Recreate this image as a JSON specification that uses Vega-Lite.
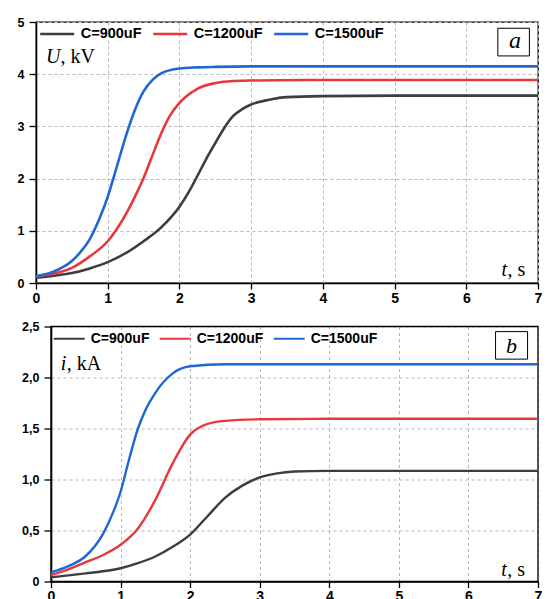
{
  "$schema": "https://vega.github.io/schema/vega-lite/v6.json",
  "padding": {"top": 14, "left": 0, "right": 0, "bottom": 0},
  "background": "white",
  "bounds": "flush",
  "spacing": 43.5,
  "datasets": {
    "U": [
      {"t": 0, "C": "C=900uF", "v": 0.10}, {"t": 0.25, "C": "C=900uF", "v": 0.14}, {"t": 0.5, "C": "C=900uF", "v": 0.19},
      {"t": 0.75, "C": "C=900uF", "v": 0.28}, {"t": 1, "C": "C=900uF", "v": 0.40}, {"t": 1.25, "C": "C=900uF", "v": 0.57},
      {"t": 1.5, "C": "C=900uF", "v": 0.80}, {"t": 1.75, "C": "C=900uF", "v": 1.07}, {"t": 2, "C": "C=900uF", "v": 1.46},
      {"t": 2.125, "C": "C=900uF", "v": 1.73}, {"t": 2.25, "C": "C=900uF", "v": 2.05}, {"t": 2.375, "C": "C=900uF", "v": 2.38},
      {"t": 2.5, "C": "C=900uF", "v": 2.68}, {"t": 2.625, "C": "C=900uF", "v": 2.97}, {"t": 2.75, "C": "C=900uF", "v": 3.20},
      {"t": 2.875, "C": "C=900uF", "v": 3.33}, {"t": 3, "C": "C=900uF", "v": 3.42}, {"t": 3.25, "C": "C=900uF", "v": 3.51},
      {"t": 3.5, "C": "C=900uF", "v": 3.56}, {"t": 4, "C": "C=900uF", "v": 3.58}, {"t": 5, "C": "C=900uF", "v": 3.59},
      {"t": 6, "C": "C=900uF", "v": 3.59}, {"t": 7, "C": "C=900uF", "v": 3.59},
      {"t": 0, "C": "C=1200uF", "v": 0.12}, {"t": 0.25, "C": "C=1200uF", "v": 0.18}, {"t": 0.5, "C": "C=1200uF", "v": 0.29},
      {"t": 0.75, "C": "C=1200uF", "v": 0.51}, {"t": 1, "C": "C=1200uF", "v": 0.80}, {"t": 1.125, "C": "C=1200uF", "v": 1.03},
      {"t": 1.25, "C": "C=1200uF", "v": 1.31}, {"t": 1.375, "C": "C=1200uF", "v": 1.64}, {"t": 1.5, "C": "C=1200uF", "v": 2.01},
      {"t": 1.625, "C": "C=1200uF", "v": 2.45}, {"t": 1.75, "C": "C=1200uF", "v": 2.88}, {"t": 1.875, "C": "C=1200uF", "v": 3.22},
      {"t": 2, "C": "C=1200uF", "v": 3.45}, {"t": 2.25, "C": "C=1200uF", "v": 3.72}, {"t": 2.5, "C": "C=1200uF", "v": 3.83},
      {"t": 2.75, "C": "C=1200uF", "v": 3.87}, {"t": 3, "C": "C=1200uF", "v": 3.88}, {"t": 4, "C": "C=1200uF", "v": 3.89},
      {"t": 5, "C": "C=1200uF", "v": 3.89}, {"t": 7, "C": "C=1200uF", "v": 3.89},
      {"t": 0, "C": "C=1500uF", "v": 0.13}, {"t": 0.25, "C": "C=1500uF", "v": 0.22}, {"t": 0.5, "C": "C=1500uF", "v": 0.42},
      {"t": 0.625, "C": "C=1500uF", "v": 0.60}, {"t": 0.75, "C": "C=1500uF", "v": 0.84}, {"t": 0.875, "C": "C=1500uF", "v": 1.20},
      {"t": 1, "C": "C=1500uF", "v": 1.65}, {"t": 1.125, "C": "C=1500uF", "v": 2.22}, {"t": 1.25, "C": "C=1500uF", "v": 2.80},
      {"t": 1.375, "C": "C=1500uF", "v": 3.30}, {"t": 1.5, "C": "C=1500uF", "v": 3.67}, {"t": 1.625, "C": "C=1500uF", "v": 3.89},
      {"t": 1.75, "C": "C=1500uF", "v": 4.02}, {"t": 2, "C": "C=1500uF", "v": 4.11}, {"t": 2.25, "C": "C=1500uF", "v": 4.13},
      {"t": 2.5, "C": "C=1500uF", "v": 4.14}, {"t": 3, "C": "C=1500uF", "v": 4.15}, {"t": 5, "C": "C=1500uF", "v": 4.15},
      {"t": 7, "C": "C=1500uF", "v": 4.15}
    ],
    "I": [
      {"t": 0, "C": "C=900uF", "v": 0.04}, {"t": 0.25, "C": "C=900uF", "v": 0.06}, {"t": 0.5, "C": "C=900uF", "v": 0.08},
      {"t": 0.75, "C": "C=900uF", "v": 0.10}, {"t": 1, "C": "C=900uF", "v": 0.13}, {"t": 1.25, "C": "C=900uF", "v": 0.18},
      {"t": 1.5, "C": "C=900uF", "v": 0.245}, {"t": 1.75, "C": "C=900uF", "v": 0.34}, {"t": 2, "C": "C=900uF", "v": 0.46},
      {"t": 2.25, "C": "C=900uF", "v": 0.64}, {"t": 2.5, "C": "C=900uF", "v": 0.82}, {"t": 2.75, "C": "C=900uF", "v": 0.94},
      {"t": 3, "C": "C=900uF", "v": 1.02}, {"t": 3.25, "C": "C=900uF", "v": 1.06}, {"t": 3.5, "C": "C=900uF", "v": 1.078},
      {"t": 4, "C": "C=900uF", "v": 1.085}, {"t": 5, "C": "C=900uF", "v": 1.085}, {"t": 7, "C": "C=900uF", "v": 1.085},
      {"t": 0, "C": "C=1200uF", "v": 0.065}, {"t": 0.25, "C": "C=1200uF", "v": 0.12}, {"t": 0.5, "C": "C=1200uF", "v": 0.19},
      {"t": 0.75, "C": "C=1200uF", "v": 0.26}, {"t": 1, "C": "C=1200uF", "v": 0.36}, {"t": 1.25, "C": "C=1200uF", "v": 0.52},
      {"t": 1.5, "C": "C=1200uF", "v": 0.80}, {"t": 1.75, "C": "C=1200uF", "v": 1.16}, {"t": 2, "C": "C=1200uF", "v": 1.44},
      {"t": 2.25, "C": "C=1200uF", "v": 1.545}, {"t": 2.5, "C": "C=1200uF", "v": 1.575}, {"t": 3, "C": "C=1200uF", "v": 1.59},
      {"t": 4, "C": "C=1200uF", "v": 1.595}, {"t": 7, "C": "C=1200uF", "v": 1.595},
      {"t": 0, "C": "C=1500uF", "v": 0.09}, {"t": 0.25, "C": "C=1500uF", "v": 0.15}, {"t": 0.5, "C": "C=1500uF", "v": 0.25},
      {"t": 0.75, "C": "C=1500uF", "v": 0.47}, {"t": 0.9, "C": "C=1500uF", "v": 0.69}, {"t": 1, "C": "C=1500uF", "v": 0.88},
      {"t": 1.1, "C": "C=1500uF", "v": 1.14}, {"t": 1.25, "C": "C=1500uF", "v": 1.50}, {"t": 1.35, "C": "C=1500uF", "v": 1.67},
      {"t": 1.5, "C": "C=1500uF", "v": 1.85}, {"t": 1.75, "C": "C=1500uF", "v": 2.04}, {"t": 2, "C": "C=1500uF", "v": 2.11},
      {"t": 2.5, "C": "C=1500uF", "v": 2.13}, {"t": 7, "C": "C=1500uF", "v": 2.13}
    ]
  },
  "vconcat": [
    {
      "width": 502,
      "height": 261,
      "layer": [
        {
          "data": {"name": "U"},
          "mark": {"type": "line", "strokeWidth": 2.6, "interpolate": "monotone"},
          "encoding": {
            "x": {
              "field": "t", "type": "quantitative",
              "scale": {"domain": [0, 7], "nice": false, "zero": false},
              "axis": {
                "values": [0, 0.5, 1, 1.5, 2, 2.5, 3, 3.5, 4, 4.5, 5, 5.5, 6, 6.5, 7],
                "labelExpr": "datum.value % 1 === 0 ? format(datum.value, 'd') : ''",
                "tickSize": {"condition": {"test": "datum.value % 1 === 0", "value": 6}, "value": 4},
                "grid": true, "gridDash": [3, 3], "gridColor": "#b8b8b8",
                "labelFontSize": 14, "labelPadding": 2, "labelOverlap": false, "labelFlush": false
              }
            },
            "y": {
              "field": "v", "type": "quantitative",
              "scale": {"domain": [0, 5], "nice": false, "zero": false},
              "axis": {
                "values": [0, 0.5, 1, 1.5, 2, 2.5, 3, 3.5, 4, 4.5, 5],
                "labelExpr": "datum.value % 1 === 0 ? format(datum.value, 'd') : ''",
                "tickSize": {"condition": {"test": "datum.value % 1 === 0", "value": 7}, "value": 4},
                "grid": true,
                "gridDash": {"condition": {"test": "datum.value % 1 === 0", "value": [3, 3]}, "value": []},
                "gridColor": {"condition": {"test": "datum.value % 1 === 0", "value": "#b8b8b8"}, "value": "#d6d6d6"},
                "labelFontSize": 12.5, "labelPadding": 5, "labelOverlap": false,
                "minExtent": 35, "maxExtent": 35
              }
            },
            "color": {
              "field": "C", "type": "nominal",
              "scale": {"domain": ["C=900uF", "C=1200uF", "C=1500uF"], "range": ["#3d3d3d", "#e8383d", "#1f66d6"]},
              "legend": {
                "orient": "none", "legendX": 2.7, "legendY": -6.5, "direction": "horizontal", "title": null,
                "symbolType": "stroke", "symbolSize": 1156, "symbolStrokeWidth": 2.5,
                "labelFont": "Liberation Sans", "labelFontWeight": "bold", "labelFontSize": 14.5, "labelColor": "black",
                "labelOffset": 5, "columnPadding": 6, "padding": 0, "symbolOffset": 0
              }
            }
          }
        },
        {
          "data": {"values": [{}]},
          "mark": {"type": "rect", "fill": "white", "stroke": "black", "strokeWidth": 1},
          "encoding": {"x": {"datum": 6.44}, "x2": {"datum": 6.88}, "y": {"datum": 4.88}, "y2": {"datum": 4.35}}
        },
        {
          "data": {"values": [{}]},
          "mark": {"type": "text", "text": "a", "font": "Liberation Serif", "fontStyle": "italic", "fontSize": 24, "align": "center", "baseline": "alphabetic", "color": "black"},
          "encoding": {"x": {"datum": 6.68}, "y": {"datum": 4.5}}
        },
        {
          "data": {"values": [{}]},
          "mark": {"type": "text", "text": "U", "font": "Liberation Serif", "fontStyle": "italic", "fontSize": 20, "align": "left", "baseline": "alphabetic", "color": "black"},
          "encoding": {"x": {"datum": 0.14}, "y": {"datum": 4.21}}
        },
        {
          "data": {"values": [{}]},
          "mark": {"type": "text", "text": ", kV", "font": "Liberation Serif", "fontSize": 20, "align": "left", "baseline": "alphabetic", "dx": 14.5, "color": "black"},
          "encoding": {"x": {"datum": 0.14}, "y": {"datum": 4.21}}
        },
        {
          "data": {"values": [{}]},
          "mark": {"type": "text", "text": "t", "font": "Liberation Serif", "fontStyle": "italic", "fontSize": 20, "align": "left", "baseline": "alphabetic", "color": "black"},
          "encoding": {"x": {"datum": 6.49}, "y": {"datum": 0.13}}
        },
        {
          "data": {"values": [{}]},
          "mark": {"type": "text", "text": ", s", "font": "Liberation Serif", "fontSize": 20, "align": "left", "baseline": "alphabetic", "dx": 6, "color": "black"},
          "encoding": {"x": {"datum": 6.49}, "y": {"datum": 0.13}}
        }
      ]
    },
    {
      "width": 502,
      "height": 255,
      "view": {"stroke": null},
      "layer": [
        {
          "data": {"values": [{}]},
          "mark": {"type": "rect", "fill": null, "stroke": "black", "strokeWidth": 1.3},
          "encoding": {"x": {"datum": 0}, "x2": {"datum": 7}, "y": {"datum": 0}, "y2": {"datum": 2.5}}
        },
        {
          "data": {"name": "I"},
          "mark": {"type": "line", "strokeWidth": 2.4, "interpolate": "monotone"},
          "encoding": {
            "x": {
              "field": "t", "type": "quantitative",
              "scale": {"domain": [0, 7], "nice": false, "zero": false, "range": [15, 502]},
              "axis": {
                "values": [0, 0.5, 1, 1.5, 2, 2.5, 3, 3.5, 4, 4.5, 5, 5.5, 6, 6.5, 7],
                "labelExpr": "datum.value % 1 === 0 ? format(datum.value, 'd') : ''",
                "tickSize": {"condition": {"test": "datum.value % 1 === 0", "value": 6}, "value": 4},
                "grid": true, "gridDash": [3, 3], "gridColor": "#b8b8b8",
                "labelFontSize": 14, "labelPadding": 2, "labelOverlap": false, "labelFlush": false
              }
            },
            "y": {
              "field": "v", "type": "quantitative",
              "scale": {"domain": [0, 2.5], "nice": false, "zero": false},
              "axis": {
                "offset": -15,
                "values": [0, 0.25, 0.5, 0.75, 1, 1.25, 1.5, 1.75, 2, 2.25, 2.5],
                "labelExpr": "datum.value % 0.5 === 0 ? (datum.value === 0 ? '0' : replace(format(datum.value, '.1f'), '.', ',')) : ''",
                "tickSize": {"condition": {"test": "datum.value % 0.5 === 0", "value": 7}, "value": 4},
                "grid": true,
                "gridDash": {"condition": {"test": "datum.value % 0.5 === 0", "value": [3, 3]}, "value": []},
                "gridColor": {"condition": {"test": "datum.value % 0.5 === 0", "value": "#b8b8b8"}, "value": "#d6d6d6"},
                "labelFontSize": 12.5, "labelPadding": 5, "labelOverlap": false
              }
            },
            "color": {
              "field": "C", "type": "nominal",
              "scale": {"domain": ["C=900uF", "C=1200uF", "C=1500uF"], "range": ["#3d3d3d", "#e8383d", "#1f66d6"]},
              "legend": {
                "orient": "none", "legendX": 16.7, "legendY": -4.5, "direction": "horizontal", "title": null,
                "symbolType": "stroke", "symbolSize": 961, "symbolStrokeWidth": 2,
                "labelFont": "Liberation Sans", "labelFontWeight": "bold", "labelFontSize": 14, "labelColor": "black",
                "labelOffset": 5, "columnPadding": 6, "padding": 0, "symbolOffset": 0
              }
            }
          }
        },
        {
          "data": {"values": [{}]},
          "mark": {"type": "rect", "fill": "white", "stroke": "black", "strokeWidth": 1},
          "encoding": {"x": {"datum": 6.39}, "x2": {"datum": 6.85}, "y": {"datum": 2.45}, "y2": {"datum": 2.18}}
        },
        {
          "data": {"values": [{}]},
          "mark": {"type": "text", "text": "b", "font": "Liberation Serif", "fontStyle": "italic", "fontSize": 22, "align": "center", "baseline": "alphabetic", "color": "black"},
          "encoding": {"x": {"datum": 6.62}, "y": {"datum": 2.245}}
        },
        {
          "data": {"values": [{}]},
          "mark": {"type": "text", "text": "i", "font": "Liberation Serif", "fontStyle": "italic", "fontSize": 20, "align": "left", "baseline": "alphabetic", "color": "black"},
          "encoding": {"x": {"datum": 0.14}, "y": {"datum": 2.075}}
        },
        {
          "data": {"values": [{}]},
          "mark": {"type": "text", "text": ", kA", "font": "Liberation Serif", "fontSize": 20, "align": "left", "baseline": "alphabetic", "dx": 6, "color": "black"},
          "encoding": {"x": {"datum": 0.14}, "y": {"datum": 2.075}}
        },
        {
          "data": {"values": [{}]},
          "mark": {"type": "text", "text": "t", "font": "Liberation Serif", "fontStyle": "italic", "fontSize": 20, "align": "left", "baseline": "alphabetic", "color": "black"},
          "encoding": {"x": {"datum": 6.47}, "y": {"datum": 0.05}}
        },
        {
          "data": {"values": [{}]},
          "mark": {"type": "text", "text": ", s", "font": "Liberation Serif", "fontSize": 20, "align": "left", "baseline": "alphabetic", "dx": 6, "color": "black"},
          "encoding": {"x": {"datum": 6.47}, "y": {"datum": 0.05}}
        }
      ]
    }
  ],
  "resolve": {"scale": {"color": "independent", "x": "independent", "y": "independent"}, "legend": {"color": "independent"}},
  "config": {
    "view": {"stroke": "black", "strokeWidth": 1.3},
    "axis": {
      "domainColor": "black", "domainWidth": 1.6, "tickColor": "black", "tickWidth": 1.3,
      "labelFont": "Liberation Sans", "labelFontWeight": "bold", "labelColor": "black", "title": null, "gridWidth": 1
    }
  }
}
